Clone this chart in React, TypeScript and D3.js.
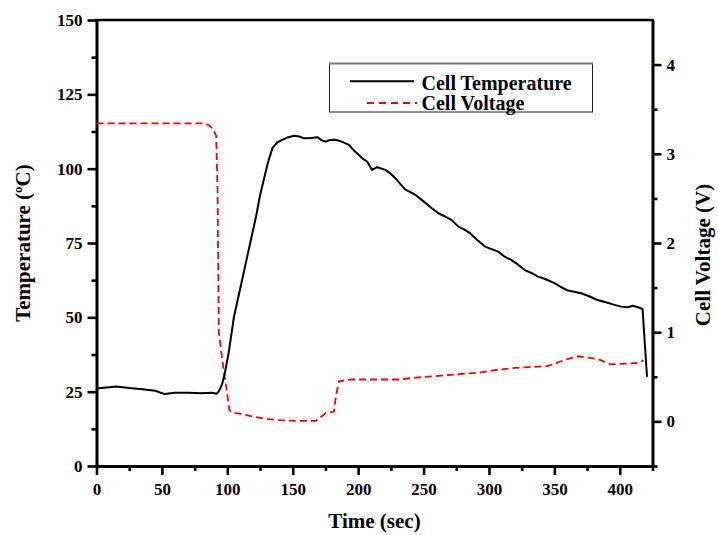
import React, { useEffect, useRef } from "react";
import * as d3 from "d3";

// Cell temperature (°C) vs time (sec)
const tempTime = [0, 10, 15, 25, 35, 45, 50, 52, 60, 70, 80, 88, 92, 94, 96, 98, 101, 105, 108, 111.5, 115, 119, 122, 125, 128, 131, 134.5, 138, 142, 146, 151, 155, 158.7, 164, 168.8, 172, 175, 178, 182.8, 188, 193, 197, 200.6, 204, 206.8, 210.7, 214.5, 220.8, 224, 228.5, 232, 236, 243.7, 250, 256.3, 261.4, 266, 271.5, 276.6, 281, 285.5, 291, 297, 307, 312, 317, 322, 327.4, 332, 337.5, 343, 350, 355, 360.3, 365, 370.5, 377, 383, 390, 396, 401, 406, 410, 414, 417.4, 420.8];
const tempValues = [26.1, 26.5, 26.7, 26.2, 25.8, 25.3, 24.5, 24.2, 24.6, 24.6, 24.5, 24.6, 24.3, 25.5, 27.5, 31, 38, 50, 56, 63, 70, 78, 84, 91, 96.5, 102, 106.9, 108.8, 109.7, 110.5, 111.1, 110.8, 110.2, 110.3, 110.6, 109.6, 109.1, 109.6, 109.7, 109, 108, 106, 104.6, 103.2, 102.4, 99.6, 100.5, 99.6, 98.6, 96.8, 95, 93, 91.2, 89, 86.7, 85, 84, 82.7, 80.5, 79.6, 78.3, 76, 73.8, 72.1, 70.4, 69.3, 67.8, 65.9, 65, 63.7, 62.9, 61.5, 60.2, 59, 58.6, 58.1, 57, 55.8, 55, 54.2, 53.6, 53.4, 53.9, 53.4, 52.8, 30];

// Cell voltage (V) vs time (sec)
const voltTime = [0, 82, 86, 89, 91.5, 92.5, 93.5, 96.5, 99, 101.6, 103, 109, 119, 129.5, 142, 155, 167.6, 170.6, 175, 181.5, 183, 185.3, 190, 195, 205, 231, 243.7, 269, 294, 307, 320, 345, 358, 368, 383, 388, 393, 408, 416, 418];
const voltValues = [3.34, 3.34, 3.32, 3.28, 3.2, 2.6, 1.0, 0.65, 0.4, 0.13, 0.1, 0.086, 0.056, 0.027, 0.011, 0.005, 0.005, 0.04, 0.09, 0.11, 0.28, 0.45, 0.46, 0.47, 0.47, 0.47, 0.49, 0.52, 0.55, 0.58, 0.6, 0.62, 0.69, 0.73, 0.7, 0.67, 0.64, 0.65, 0.66, 0.69];

const xMajorTicks = [0, 50, 100, 150, 200, 250, 300, 350, 400];
const xMinorTicks = [25, 75, 125, 175, 225, 275, 325, 375, 425];
const tempMajorTicks = [0, 25, 50, 75, 100, 125, 150];
const tempMinorTicks = [12.5, 37.5, 62.5, 87.5, 112.5, 137.5];
const voltMajorTicks = [0, 1, 2, 3, 4];
const voltMinorTicks = [-0.5, 0.5, 1.5, 2.5, 3.5];

const legendLabels = ["Cell Temperature", "Cell Voltage"];

const FONT = "'Liberation Serif', 'Times New Roman', Times, serif";

export default function App() {
  const ref = useRef<SVGSVGElement | null>(null);

  useEffect(() => {
    const svg = d3.select(ref.current);
    svg.selectAll("*").remove();

    const left = 96.5, right = 652.5, top = 20, bottom = 466;
    const x = d3.scaleLinear().domain([0, 425]).range([left, right]);
    const yT = d3.scaleLinear().domain([0, 150]).range([bottom, top]);
    const yV = d3.scaleLinear().domain([-0.5, 4.5]).range([bottom, top]);

    const styleAxis = (g: any, labels: boolean) => {
      g.select(".domain").attr("stroke", "#000").attr("stroke-width", 2.6);
      g.selectAll(".tick line").attr("stroke", "#000").attr("stroke-width", 2.6);
      g.selectAll(".tick text")
        .attr("fill", "#000")
        .style("font-family", FONT)
        .style("font-weight", "bold")
        .style("font-size", "17px");
      if (!labels) g.selectAll(".tick text").remove();
    };

    // minor axes
    svg.append("g").attr("transform", `translate(0,${bottom})`)
      .call(d3.axisBottom(x).tickValues(xMinorTicks).tickSize(5).tickSizeOuter(0).tickFormat(() => ""))
      .call((g: any) => styleAxis(g, false));
    svg.append("g").attr("transform", `translate(${left},0)`)
      .call(d3.axisLeft(yT).tickValues(tempMinorTicks).tickSize(5).tickSizeOuter(0).tickFormat(() => ""))
      .call((g: any) => styleAxis(g, false));
    svg.append("g").attr("transform", `translate(${right},0)`)
      .call(d3.axisRight(yV).tickValues(voltMinorTicks).tickSize(5).tickSizeOuter(0).tickFormat(() => ""))
      .call((g: any) => styleAxis(g, false));

    // major axes
    svg.append("g").attr("transform", `translate(0,${bottom})`)
      .call(d3.axisBottom(x).tickValues(xMajorTicks).tickSize(9).tickPadding(8).tickSizeOuter(0).tickFormat(d3.format("d")))
      .call((g: any) => styleAxis(g, true));
    svg.append("g").attr("transform", `translate(${left},0)`)
      .call(d3.axisLeft(yT).tickValues(tempMajorTicks).tickSize(9).tickPadding(5).tickSizeOuter(0).tickFormat(d3.format("d")))
      .call((g: any) => styleAxis(g, true));
    svg.append("g").attr("transform", `translate(${right},0)`)
      .call(d3.axisRight(yV).tickValues(voltMajorTicks).tickSize(9).tickPadding(5).tickSizeOuter(0).tickFormat(d3.format("d")))
      .call((g: any) => styleAxis(g, true));

    // top frame
    svg.append("line")
      .attr("x1", left - 1.3).attr("x2", right + 1.3)
      .attr("y1", top).attr("y2", top)
      .attr("stroke", "#000").attr("stroke-width", 2.6);

    // curves
    const tempData = tempTime.map((t, i) => [t, tempValues[i]] as [number, number]);
    const voltData = voltTime.map((t, i) => [t, voltValues[i]] as [number, number]);

    svg.append("path")
      .attr("d", d3.line<[number, number]>().x((d) => x(d[0])).y((d) => yV(d[1]))(voltData) as string)
      .attr("fill", "none").attr("stroke", "#ff0000").attr("stroke-width", 1.8)
      .attr("stroke-dasharray", "7,4");

    svg.append("path")
      .attr("d", d3.line<[number, number]>().x((d) => x(d[0])).y((d) => yT(d[1]))(tempData) as string)
      .attr("fill", "none").attr("stroke", "#000").attr("stroke-width", 2)
      .attr("stroke-linejoin", "round");

    // legend
    const lg = svg.append("g");
    lg.append("rect").attr("x", 329.5).attr("y", 63.5).attr("width", 263).attr("height", 48.5)
      .attr("fill", "#fff").attr("stroke", "#222").attr("stroke-width", 1);
    lg.append("line").attr("x1", 329).attr("x2", 593).attr("y1", 63.5).attr("y2", 63.5)
      .attr("stroke", "#777").attr("stroke-width", 2);
    lg.append("line").attr("x1", 350).attr("x2", 414).attr("y1", 81.3).attr("y2", 81.3)
      .attr("stroke", "#000").attr("stroke-width", 2);
    lg.append("line").attr("x1", 367).attr("x2", 417).attr("y1", 103).attr("y2", 103)
      .attr("stroke", "#ff0000").attr("stroke-width", 1.8).attr("stroke-dasharray", "7,5");
    legendLabels.forEach((lab, i) => {
      lg.append("text").attr("x", 421.5).attr("y", 89.5 + i * 20)
        .style("font-family", FONT).style("font-weight", "bold").style("font-size", "20px")
        .attr("fill", "#000").text(lab);
    });

    // axis titles
    svg.append("text").attr("x", (left + right) / 2).attr("y", 528)
      .attr("text-anchor", "middle")
      .style("font-family", FONT).style("font-weight", "bold").style("font-size", "21px")
      .text("Time (sec)");

    const yl = svg.append("text").attr("transform", "translate(30,243) rotate(-90)")
      .attr("text-anchor", "middle")
      .style("font-family", FONT).style("font-weight", "bold").style("font-size", "21px");
    yl.append("tspan").text("Temperature (");
    yl.append("tspan").attr("font-size", "13px").attr("dy", -8).text("o");
    yl.append("tspan").attr("dy", 8).text("C)");

    svg.append("text").attr("transform", "translate(710,255) rotate(-90)")
      .attr("text-anchor", "middle")
      .style("font-family", FONT).style("font-weight", "bold").style("font-size", "21px")
      .text("Cell Voltage (V)");
  }, []);

  return (
    <svg ref={ref} width={718} height={535}
      style={{ position: "absolute", left: 0, top: 0, background: "#fff" }} />
  );
}
